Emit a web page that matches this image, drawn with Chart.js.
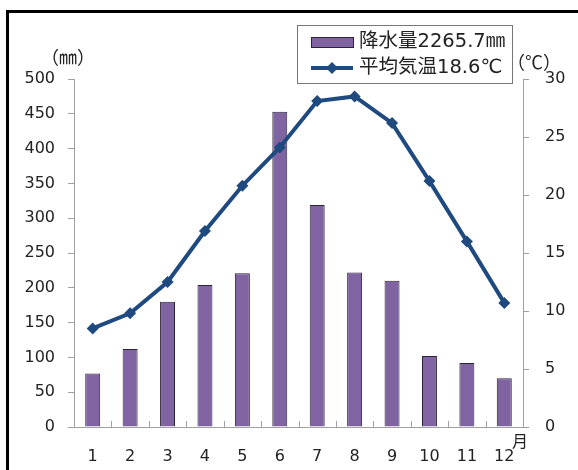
<!DOCTYPE html>
<html>
<head>
<meta charset="utf-8">
<script src="https://cdn.jsdelivr.net/npm/chart.js@4"></script>
<style>
  html, body { margin: 0; padding: 0; background: #fff; }
  canvas { display: block; }
</style>
</head>
<body>
<canvas id="climateChart" width="578" height="470"></canvas>
<script>
const months = ['1', '2', '3', '4', '5', '6', '7', '8', '9', '10', '11', '12'];
const rainfall = [77, 112, 180, 204, 221, 453, 319, 222, 210, 102, 92, 70];
const temperature = [8.5, 9.8, 12.5, 16.9, 20.8, 24.1, 28.1, 28.5, 26.2, 21.2, 16.0, 10.7];
const rainLabel = '降水量2265.7㎜';
const tempLabel = '平均気温18.6℃';

const numFont = { family: 'DejaVu Sans', size: 16 };
const jpFont = '"Noto Sans CJK JP", sans-serif';
const legendFont = '19.5px "DejaVu Sans", "Noto Sans CJK JP", sans-serif';
const barColor = '#8064A2';
const lineColor = '#1F4A80';
const axisColor = '#a0a0a0';

// frame, axis titles, legend and the small category ticks on the x axis
const decorations = {
    id: 'decorations',
    afterDraw(chart) {
        const ctx = chart.ctx;
        const x = chart.scales.x;
        const area = chart.chartArea;
        ctx.save();

        // outer frame (top and left edges)
        ctx.strokeStyle = '#000';
        ctx.lineWidth = 3;
        ctx.beginPath();
        ctx.moveTo(7.5, 470);
        ctx.lineTo(7.5, 11.5);
        ctx.lineTo(578, 11.5);
        ctx.stroke();

        // ticks between categories, pointing up
        ctx.strokeStyle = axisColor;
        ctx.lineWidth = 1;
        const step = x.getPixelForValue(1) - x.getPixelForValue(0);
        for (let i = 1; i < months.length; i++) {
            const px = Math.round(x.getPixelForValue(i) - step / 2) + 0.5;
            ctx.beginPath();
            ctx.moveTo(px, area.bottom);
            ctx.lineTo(px, area.bottom - 6);
            ctx.stroke();
        }

        // axis unit titles
        ctx.fillStyle = '#222';
        ctx.textBaseline = 'middle';
        ctx.textAlign = 'left';
        ctx.font = '18px ' + jpFont;
        ctx.fillText('（㎜）', 41, 57);
        ctx.fillText('（℃）', 507, 62);
        ctx.font = '16px ' + jpFont;
        ctx.fillText('月', 512, 441);

        // legend
        ctx.fillStyle = '#fff';
        ctx.fillRect(297, 25, 215, 58);
        ctx.strokeStyle = '#777';
        ctx.lineWidth = 1;
        ctx.strokeRect(297.5, 25.5, 215, 58);

        ctx.fillStyle = barColor;
        ctx.fillRect(311, 37, 42, 10);
        ctx.strokeStyle = '#2b2238';
        ctx.strokeRect(311.5, 37.5, 42, 10);

        ctx.strokeStyle = lineColor;
        ctx.lineWidth = 4;
        ctx.beginPath();
        ctx.moveTo(311, 68);
        ctx.lineTo(353, 68);
        ctx.stroke();
        ctx.fillStyle = lineColor;
        ctx.beginPath();
        ctx.moveTo(332, 62);
        ctx.lineTo(338, 68);
        ctx.lineTo(332, 74);
        ctx.lineTo(326, 68);
        ctx.closePath();
        ctx.fill();

        ctx.fillStyle = '#222';
        ctx.font = legendFont;
        ctx.fillText(rainLabel, 359, 42);
        ctx.fillText(tempLabel, 359, 68);

        ctx.restore();
    }
};

const ctx = document.getElementById('climateChart').getContext('2d');
new Chart(ctx, {
    type: 'bar',
    data: {
        labels: months,
        datasets: [{
            type: 'line',
            label: tempLabel,
            data: temperature,
            yAxisID: 'y1',
            borderColor: lineColor,
            backgroundColor: lineColor,
            borderWidth: 4,
            pointStyle: 'rectRot',
            pointRadius: 6,
            pointBorderWidth: 0,
            tension: 0,
            order: 1
        }, {
            label: rainLabel,
            data: rainfall,
            yAxisID: 'y',
            backgroundColor: barColor,
            borderColor: '#2b2238',
            borderWidth: 1,
            categoryPercentage: 1,
            barPercentage: 0.4,
            order: 2
        }]
    },
    options: {
        responsive: false,
        animation: false,
        layout: { padding: { top: 79, left: 0, right: 0, bottom: 0 } },
        plugins: {
            legend: { display: false },
            tooltip: { enabled: false }
        },
        scales: {
            x: {
                grid: { display: false },
                border: { display: true, color: axisColor },
                ticks: { color: '#222', font: numFont, padding: 12, maxRotation: 0 },
                afterFit(scale) { scale.height = 43; }
            },
            y: {
                position: 'left',
                min: 0,
                max: 500,
                ticks: { stepSize: 50, color: '#222', font: numFont, padding: 13 },
                grid: { drawOnChartArea: false, tickLength: 6, color: axisColor },
                border: { color: axisColor },
                afterFit(scale) { scale.width = 74; }
            },
            y1: {
                position: 'right',
                min: 0,
                max: 30,
                ticks: { stepSize: 5, color: '#222', font: numFont, padding: 16 },
                grid: { drawOnChartArea: false, tickLength: 6, color: axisColor },
                border: { color: axisColor },
                afterFit(scale) { scale.width = 55; }
            }
        }
    },
    plugins: [decorations]
});
</script>
</body>
</html>
